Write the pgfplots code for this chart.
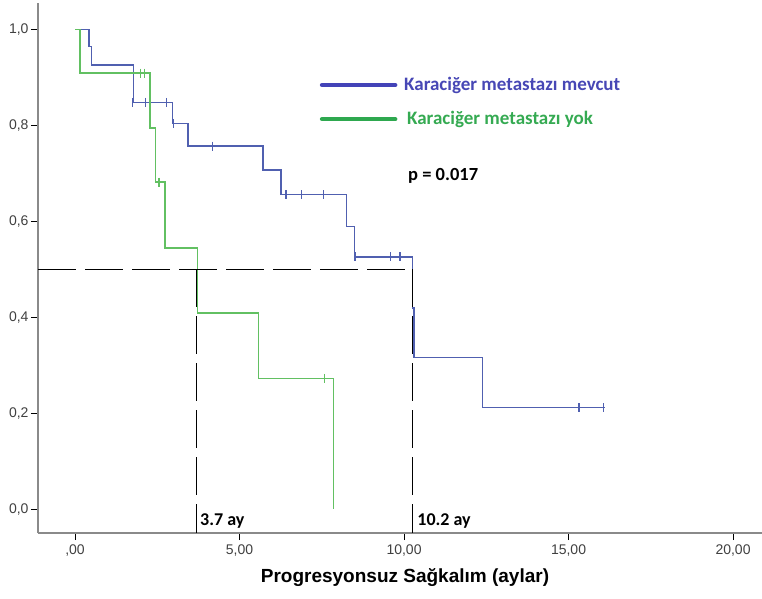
\documentclass[border=0pt]{standalone}
\usepackage{fontspec}
\setmainfont{Liberation Sans}
\newfontfamily\calibri{Carlito}
\usepackage{pgfplots}
\pgfplotsset{compat=1.18}
\definecolor{curveblue}{HTML}{5060B0}
\definecolor{curvegreen}{HTML}{62C062}
\definecolor{legblue}{HTML}{4343B8}
\definecolor{leggreen}{HTML}{2EA84F}
\definecolor{txtblue}{HTML}{4747B5}
\definecolor{txtgreen}{HTML}{35AA52}
\definecolor{axisgray}{HTML}{8A8A8A}
\definecolor{ticklab}{HTML}{404040}
\begin{document}
\begin{tikzpicture}
\begin{axis}[
  at={(0,0)}, anchor=south west,
  scale only axis, width=724bp, height=530bp,
  xmin=-1.125, xmax=20.88, ymin=-0.049, ymax=1.055,
  axis x line*=bottom, axis y line*=left,
  axis line style={axisgray, line width=2.6bp},
  clip=false,
  xtick={0,5,10,15,20},
  xticklabels={{,00},{5,00},{10,00},{15,00},{20,00}},
  ytick={0,0.2,0.4,0.6,0.8,1.0},
  yticklabels={{0,0},{0,2},{0,4},{0,6},{0,8},{1,0}},
  tick align=outside,
  major tick length=7bp,
  tick style={black, line width=0.9bp},
  ticklabel style={font=\fontsize{14bp}{16bp}\selectfont, text=ticklab},
  xticklabel style={yshift=-1bp},
  yticklabel style={xshift=1bp},
  xlabel={Progresyonsuz Sağkalım (aylar)},
  xlabel style={font=\fontsize{19bp}{22bp}\selectfont\bfseries, text=black,
    at={(axis description cs:0.5,0)}, anchor=center, yshift=-45bp, xshift=5bp},
]
% Karaciğer metastazı mevcut
\addplot[const plot, curveblue, line width=1.4bp] coordinates {
 (0,1.0) (0.43,0.964) (0.51,0.926) (1.77,0.848) (2.97,0.804) (3.44,0.757)
 (5.71,0.707) (6.26,0.656) (8.26,0.590) (8.49,0.526) (10.26,0.42)
 (10.30,0.317) (12.38,0.212) (16.10,0.212)
};
\addplot[only marks, mark=|, mark size=4.5bp, curveblue, mark options={line width=1.2bp}] coordinates {
 (1.75,0.848) (2.14,0.848) (2.77,0.848) (2.99,0.804) (4.19,0.757)
 (6.41,0.656) (6.88,0.656) (7.55,0.656)
 (8.51,0.526) (9.60,0.526) (9.88,0.526)
 (15.32,0.212) (16.06,0.212)
};
% Karaciğer metastazı yok
\addplot[const plot, curvegreen, line width=1.4bp] coordinates {
 (0,1.0) (0.15,0.909) (2.28,0.795) (2.45,0.682) (2.74,0.545)
 (3.72,0.409) (5.57,0.273) (7.86,0.0)
};
\addplot[only marks, mark=|, mark size=4.5bp, curvegreen, mark options={line width=1.2bp}] coordinates {
 (2.00,0.909) (2.12,0.909) (2.55,0.682) (7.58,0.273)
};
% median lines
\addplot[black, line width=1bp, dash pattern=on 38bp off 9bp] coordinates {(-1.125,0.5) (10.26,0.5)};
\addplot[black, line width=1bp, dash pattern=on 38bp off 9bp] coordinates {(3.70,0.5) (3.70,-0.049)};
\addplot[black, line width=1bp, dash pattern=on 38bp off 9bp] coordinates {(10.26,0.5) (10.26,-0.049)};
% annotations
\node[anchor=west, font=\calibri\bfseries\fontsize{18bp}{20bp}\selectfont, inner sep=0pt] at (axis cs:3.80,-0.024) {3.7 ay};
\node[anchor=west, font=\calibri\bfseries\fontsize{18bp}{20bp}\selectfont, inner sep=0pt] at (axis cs:10.40,-0.024) {10.2 ay};
% legend
\draw[legblue, line width=4.5bp, line cap=round] (axis cs:7.51,0.884) -- (axis cs:9.73,0.884);
\draw[leggreen, line width=4.5bp, line cap=round] (axis cs:7.51,0.813) -- (axis cs:9.73,0.813);
\node[anchor=west, inner sep=0pt, text=txtblue, font=\calibri\bfseries\fontsize{19bp}{21bp}\selectfont] at (axis cs:10.0,0.884) {Karaciğer metastazı mevcut};
\node[anchor=west, inner sep=0pt, text=txtgreen, font=\calibri\bfseries\fontsize{19bp}{21bp}\selectfont] at (axis cs:10.09,0.813) {Karaciğer metastazı yok};
\node[anchor=west, inner sep=0pt, text=black, font=\calibri\bfseries\fontsize{18.5bp}{20bp}\selectfont] at (axis cs:10.12,0.694) {p = 0.017};
\end{axis}
\pgfresetboundingbox
\useasboundingbox (-38bp,-66bp) rectangle (724bp,533bp);
\end{tikzpicture}
\end{document}
